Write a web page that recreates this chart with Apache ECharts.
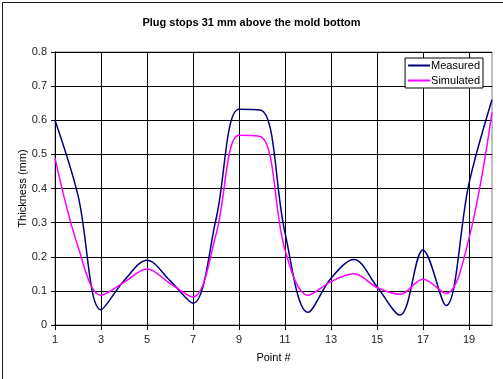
<!DOCTYPE html>
<html>
<head>
<meta charset="utf-8">
<script src="https://cdn.jsdelivr.net/npm/echarts@6/dist/echarts.min.js"></script>
<style>
html,body{margin:0;padding:0;background:#fff;}
#chart{width:503px;height:379px;}
</style>
</head>
<body>
<div id="chart"></div>
<script>
var points = ['1','2','3','4','5','6','7','8','9','10','11','12','13','14','15','16','17','18','19','20'];
var measured = [0.60, 0.38, 0.045, 0.13, 0.19, 0.13, 0.064, 0.31, 0.632, 0.628, 0.27, 0.037, 0.137, 0.192, 0.112, 0.029, 0.22, 0.057, 0.415, 0.66];
var simulated = [0.49, 0.23, 0.087, 0.125, 0.164, 0.122, 0.082, 0.265, 0.556, 0.55, 0.22, 0.087, 0.127, 0.15, 0.11, 0.09, 0.134, 0.092, 0.254, 0.623];
var titleText = 'Plug stops 31 mm above the mold bottom';
var font = 'Liberation Sans, Arial, sans-serif';

var chart = echarts.init(document.getElementById('chart'), null, {renderer: 'canvas'});
chart.setOption({
  animation: false,
  backgroundColor: '#ffffff',
  graphic: [{
    type: 'rect', left: 0, top: 0, z: 100, silent: true,
    shape: {x: 0.5, y: 0.5, width: 502, height: 378},
    style: {fill: 'none', stroke: '#1a1a1a', lineWidth: 1}
  }],
  title: {
    text: titleText, left: 'center', top: 12,
    textStyle: {fontFamily: font, fontSize: 11, fontWeight: 'bold', color: '#000'}
  },
  legend: {
    orient: 'vertical', right: 20, top: 58,
    data: ['Measured', 'Simulated'],
    icon: 'rect', itemWidth: 22, itemHeight: 2, itemGap: 4,
    backgroundColor: '#fff', borderColor: '#000', borderWidth: 1,
    padding: [2, 3, 2, 3],
    textStyle: {fontFamily: font, fontSize: 11, color: '#000', padding: [0, 0, 0, -4]}
  },
  grid: {
    left: 55, right: 11, top: 52, bottom: 54,
    show: true, backgroundColor: '#fff', borderColor: '#808080', borderWidth: 1
  },
  xAxis: {
    type: 'category', data: points, boundaryGap: false,
    name: 'Point #', nameLocation: 'middle', nameGap: 27, nameMoveOverlap: false,
    nameTextStyle: {fontFamily: font, fontSize: 11, color: '#000'},
    axisLine: {lineStyle: {color: '#000', width: 1}},
    axisTick: {show: true, interval: 1, length: 5, lineStyle: {color: '#000'}},
    axisLabel: {interval: 1, margin: 9, fontFamily: font, fontSize: 11, color: '#222'},
    splitLine: {show: true, interval: 1, lineStyle: {color: '#000', width: 1}}
  },
  yAxis: {
    type: 'value', min: 0, max: 0.8, interval: 0.1,
    name: 'Thickness (mm)', nameLocation: 'middle', nameGap: 27, nameRotate: 90, nameMoveOverlap: false,
    nameTextStyle: {fontFamily: font, fontSize: 11, color: '#000'},
    axisLine: {show: true, lineStyle: {color: '#000', width: 1}},
    axisTick: {show: true, length: 4, lineStyle: {color: '#000'}},
    axisLabel: {margin: 8, fontFamily: font, fontSize: 11, color: '#222'},
    splitLine: {show: true, lineStyle: {color: '#000', width: 1}}
  },
  series: [{
    name: 'Measured', type: 'line', data: measured, smooth: 0.35,
    symbol: 'none', color: '#000080', lineStyle: {color: '#000080', width: 1.5}
  }, {
    name: 'Simulated', type: 'line', data: simulated, smooth: 0.35,
    symbol: 'none', color: '#ff00ff', lineStyle: {color: '#ff00ff', width: 1.5}
  }]
});
</script>
</body>
</html>
